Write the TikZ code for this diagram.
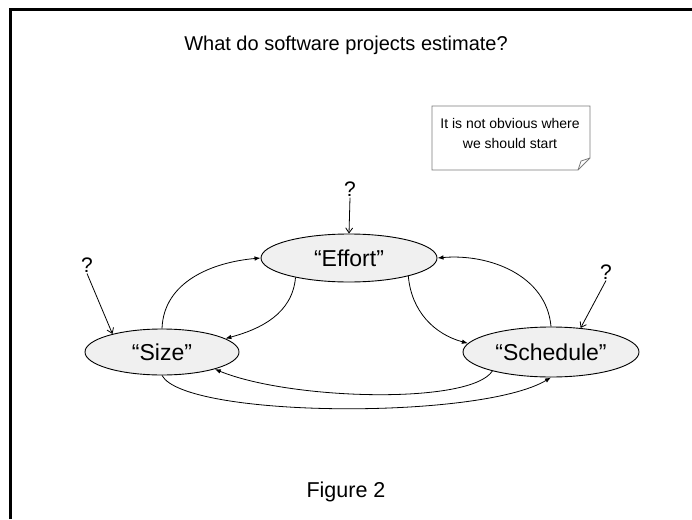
\documentclass[tikz,border=0pt]{standalone}
\usepackage{fontspec}
\setmainfont{Liberation Sans}
\usetikzlibrary{arrows.meta,shapes.geometric}
\definecolor{ovalfill}{HTML}{F0F0F0}
\definecolor{notegray}{HTML}{7A7A7A}
\begin{document}
\begin{tikzpicture}[x=1pt,y=1pt,
  oval/.style={draw, line width=0.9pt, fill=ovalfill, ellipse, inner sep=0pt,
    font=\fontsize{23}{26}\selectfont},
  link/.style={line width=0.8pt, -{Latex[length=6pt,width=4.5pt]}},
  qarrow/.style={line width=0.8pt, -{Straight Barb[length=5pt,width=7pt]}},
  qmark/.style={inner sep=1pt, font=\fontsize{21}{24}\selectfont},
  plain/.style={inner sep=0pt}]
\useasboundingbox (0,0) rectangle (692,-519);
% frame
\draw[line width=3pt] (10,-519) -- (10,-10) -- (692,-10);
% title and caption
\node[plain, font=\fontsize{20}{23}\selectfont] (title) at (346,-45) {What do software projects estimate?};
\node[plain, font=\fontsize{21.5}{25}\selectfont] (fig) at (346,-492) {Figure 2};
% note
\draw[notegray, line width=0.8pt, fill=white] (432,-106) -- (590,-106) -- (590,-158) -- (578,-170) -- (432,-170) -- cycle;
\draw[notegray, line width=0.8pt] (578,-170) -- (581,-161) -- (590,-158);
\node[plain, align=center, font=\fontsize{14}{20}\selectfont] (note) at (510,-133) {It is not obvious where\\we should start};
% ovals
\node[oval, minimum width=176pt, minimum height=48pt] (effort) at (349,-258) {“Effort”};
\node[oval, minimum width=154pt, minimum height=46pt] (size) at (162,-352) {“Size”};
\node[oval, minimum width=176pt, minimum height=50pt] (sched) at (551,-352) {“Schedule”};
% question marks
\node[qmark] (q1) at (350,-189) {?};
\node[qmark] (q2) at (87,-265) {?};
\node[qmark] (q3) at (606,-272) {?};
\draw[qarrow] (q1.south) -- (effort.north);
\draw[qarrow] (q2.south) -- (size.160);
\draw[qarrow] (q3.south) -- (sched.39);
% connectors
\draw[link] (size.north) to[out=88,in=185] (effort.west);
\draw[link] (effort.200) to[out=-95,in=15] (size.12);
\draw[link] (effort.343) to[out=-85,in=165] (sched.174);
\draw[link] (sched.north) to[out=95,in=5] (effort.east);
\draw[link] (sched.198) .. controls (470,-405) and (290,-400) .. (size.342);
\draw[link] (size.south) .. controls (185,-418) and (480,-420) .. (sched.south);
\end{tikzpicture}
\end{document}
